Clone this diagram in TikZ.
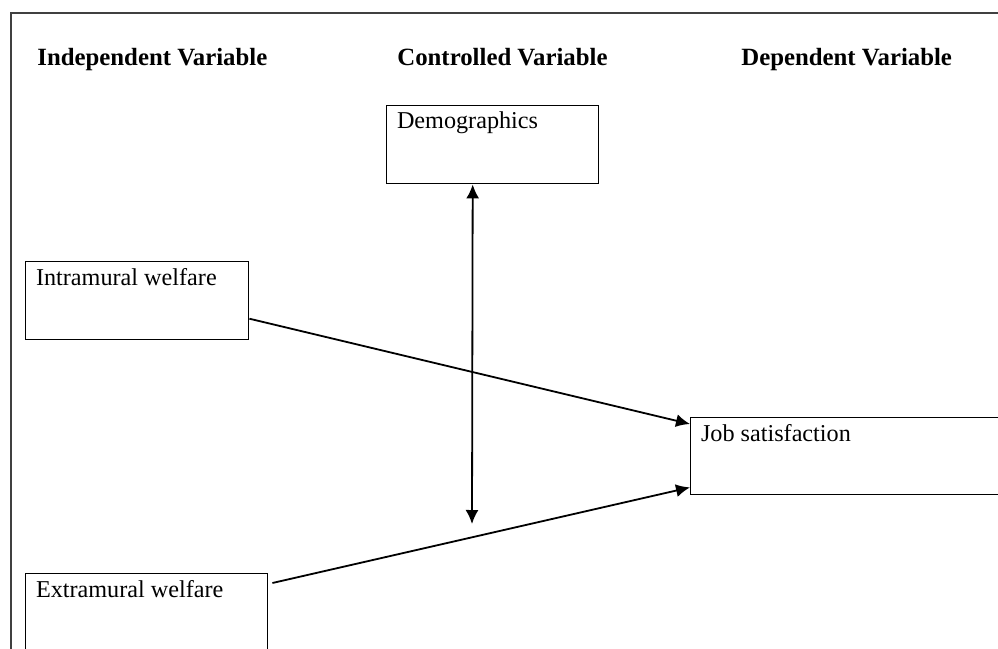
\documentclass[tikz,border=0pt]{standalone}
\usepackage{fontspec}
\setmainfont{Liberation Serif}
\usetikzlibrary{arrows.meta}

\tikzset{
  varbox/.style={draw, line width=0.7pt, inner sep=0pt, anchor=north west},
  boxtext/.style={anchor=north west, inner xsep=5.3pt, inner ysep=3.3pt, font=\fontsize{12.1}{14}\selectfont},
  header/.style={anchor=base west, inner sep=0pt, font=\fontsize{12.4}{14}\selectfont\bfseries},
  link/.style={line width=0.9pt, -{Latex[length=7pt,width=6.5pt]}},
}

\begin{document}
\begin{tikzpicture}[x=0.5pt, y=-0.5pt]
        \useasboundingbox (0,0) rectangle (998,649);
        \clip (0,0) rectangle (998,649);

        % frame
        \draw[line width=1.2pt, black!75] (11,13) rectangle (1010,670);

        % header
        \node[header] (indep) at (37,65) {Independent Variable};
        \node[header] (contr) at (397,65) {Controlled Variable};
        \node[header] (dep) at (741,65) {Dependent Variable};

        % boxes
        \node[varbox, minimum width=106pt, minimum height=39pt, label={[boxtext]north west:Demographics}] (demo) at (386,105) {};
        \node[varbox, minimum width=111.5pt, minimum height=39pt, label={[boxtext]north west:Intramural welfare}] (intra) at (25,261) {};
        \node[varbox, minimum width=170pt, minimum height=38.5pt, label={[boxtext]north west:Job satisfaction}] (job) at (690,417) {};
        \node[varbox, minimum width=121pt, minimum height=39pt, label={[boxtext]north west:Extramural welfare}] (extra) at (25,573) {};

        % arrows
        \draw[link] ([yshift=-9pt]intra.east) -- ([yshift=-3.5pt]job.north west);
        \draw[link] ([xshift=2pt, yshift=-5pt]extra.north east) -- ([yshift=4pt]job.south west);

        % controlled
        \coordinate (ctrl-end) at (472,524);
        \draw[link, {Latex[length=7pt,width=6.5pt]}-{Latex[length=7pt,width=6.5pt]}] ([xshift=-10pt]demo.south) -- (ctrl-end);
\end{tikzpicture}
\end{document}
